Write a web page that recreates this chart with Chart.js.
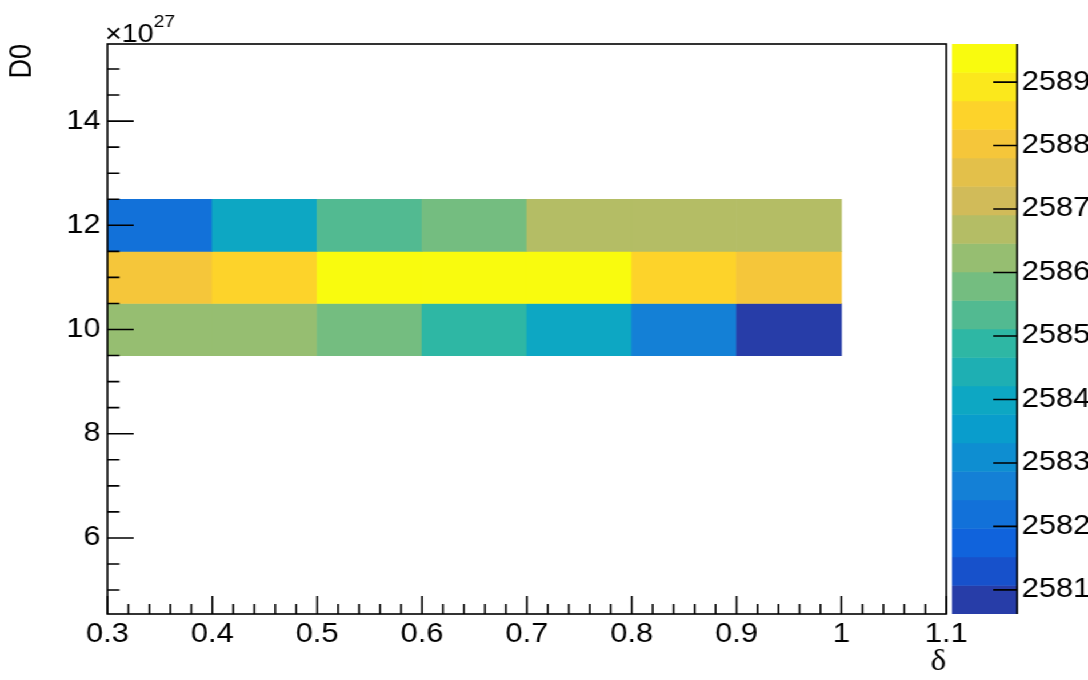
<!DOCTYPE html>
<html>
<head>
<meta charset="utf-8">
<script src="https://cdn.jsdelivr.net/npm/chart.js@4.4.1/dist/chart.umd.min.js"></script>
<style>
  html, body { margin: 0; padding: 0; background: #fff; overflow: hidden; }
  /* the canvas is drawn at 952 wide and stretched to 1088 */
  #wrap { position: relative; width: 952px; height: 680px; transform: scaleX(1.142857); transform-origin: 0 0; }
  #wrap canvas { position: absolute; left: 0; top: 0; }
</style>
</head>
<body>
<div id="wrap">
  <canvas id="hist" width="952" height="680"></canvas>
  <canvas id="palette" width="952" height="680"></canvas>
</div>
<script>
// bin edges along delta, bin centres along D0 (in units of 1e27)
const deltaEdges = [0.3, 0.4, 0.5, 0.6, 0.7, 0.8, 0.9, 1.0];
const d0Rows = [10, 11, 12];
// bin contents, one array per D0 row
const zD0_10 = [25862.4, 25862.0, 25857.6, 25849.1, 25839.7, 25826.2, 25806.2];
const zD0_11 = [25880.6, 25885.1, 25894.2, 25896.0, 25894.6, 25884.7, 25880.2];
const zD0_12 = [25821.8, 25840.3, 25853.2, 25858.1, 25866.6, 25867.1, 25866.9];
const zRows = [zD0_10, zD0_11, zD0_12];

const xTicks = [0.3, 0.4, 0.5, 0.6, 0.7, 0.8, 0.9, 1.0, 1.1];
const yTicks = [6, 8, 10, 12, 14];
const zTicks = [25810, 25820, 25830, 25840, 25850, 25860, 25870, 25880, 25890];
const nContours = 20;

// kBird palette stops
const birdStops = [0.0, 0.125, 0.25, 0.375, 0.5, 0.625, 0.75, 0.875, 1.0];
const birdR = [0.2082, 0.0592, 0.0780, 0.0232, 0.1802, 0.5301, 0.8186, 0.9956, 0.9764];
const birdG = [0.1664, 0.3599, 0.5041, 0.6419, 0.7178, 0.7492, 0.7328, 0.7862, 0.9832];
const birdB = [0.5293, 0.8684, 0.8385, 0.7914, 0.6425, 0.4662, 0.3499, 0.1968, 0.0539];

function bird(f) {
  let i = 0;
  while (i < birdStops.length - 2 && f > birdStops[i + 1]) i++;
  const t = (f - birdStops[i]) / (birdStops[i + 1] - birdStops[i]);
  const c = a => Math.round(255 * (a[i] + (a[i + 1] - a[i]) * t));
  return `rgb(${c(birdR)},${c(birdG)},${c(birdB)})`;
}

// colour of contour level i, 255 colours spread over 20 levels
function levelColor(i) {
  const idx = Math.floor((i + 0.99) * 255 / nContours);
  return bird(idx / 254);
}

const allZ = zRows.flat();
const zMin = Math.min(...allZ);
const zMax = Math.max(...allZ);
const dz = (zMax - zMin) / nContours;

function zLevel(z) {
  return Math.min(nContours - 1, Math.floor(0.01 + (z - zMin) / dz));
}

const cells = [];
const cellColors = [];
zRows.forEach((row, r) => {
  row.forEach((z, c) => {
    cells.push({ x: [deltaEdges[c], deltaEdges[c + 1]], y: d0Rows[r] });
    cellColors.push(levelColor(zLevel(z)));
  });
});

const bands = [];
const bandColors = [];
for (let i = 0; i < nContours; i++) {
  bands.push({ x: 'z', y: [zMin + i * dz, zMin + (i + 1) * dz] });
  bandColors.push(levelColor(i));
}

const sans = '"Liberation Sans", Arial, sans-serif';
Chart.defaults.font.family = sans;
Chart.defaults.color = '#000';

const labelFont = { family: sans, size: 27 };
const lineW = 1.6;

// frame, inward tick marks and the exponent
const rootAxes = {
  id: 'rootAxes',
  afterDraw(chart) {
    const { ctx, chartArea: a, scales: { x, y } } = chart;
    ctx.save();
    ctx.strokeStyle = '#000';
    ctx.lineWidth = lineW;
    ctx.strokeRect(a.left, a.top, a.right - a.left, a.bottom - a.top);
    ctx.beginPath();
    for (let v = 300; v <= 1100; v += 20) {
      const px = x.getPixelForValue(v / 1000);
      const len = v % 100 === 0 ? 18 : 10;
      ctx.moveTo(px, a.bottom);
      ctx.lineTo(px, a.bottom - len);
    }
    for (let v = 45; v <= 155; v += 5) {
      const py = y.getPixelForValue(v / 10);
      if (py < a.top || py > a.bottom) continue;
      const len = v % 20 === 0 ? 23 : 10.5;
      ctx.moveTo(a.left, py);
      ctx.lineTo(a.left + len, py);
    }
    ctx.stroke();

    ctx.fillStyle = '#000';
    ctx.textAlign = 'left';
    ctx.textBaseline = 'alphabetic';
    ctx.font = '25px ' + sans;
    ctx.fillText('×10', a.left - 2, 42);
    const w = ctx.measureText('×10').width;
    ctx.font = '17px ' + sans;
    ctx.fillText('27', a.left - 2 + w, 27);
    ctx.restore();
  }
};

new Chart(document.getElementById('hist'), {
  type: 'bar',
  data: {
    datasets: [{
      data: cells,
      backgroundColor: cellColors,
      borderWidth: 0,
      barPercentage: 1,
      categoryPercentage: 1
    }]
  },
  options: {
    indexAxis: 'y',
    responsive: false,
    animation: false,
    events: [],
    layout: { padding: { left: 0, right: 124, top: 44, bottom: 0 } },
    plugins: { legend: { display: false }, tooltip: { enabled: false } },
    scales: {
      x: {
        type: 'linear',
        min: 0.3,
        max: 1.1,
        afterBuildTicks: s => { s.ticks = xTicks.map(v => ({ value: v })); },
        afterFit: s => { s.height = 66; },
        grid: { display: false, drawTicks: false },
        border: { display: false },
        ticks: { font: labelFont, color: '#000', padding: 4, maxRotation: 0, autoSkip: false, callback: v => String(v) },
        title: {
          display: true, text: 'δ', align: 'end', color: '#000', padding: 0,
          font: { family: '"Liberation Serif", "DejaVu Serif", serif', size: 29 }
        }
      },
      y: {
        type: 'linear',
        min: 4.54,
        max: 15.48,
        offset: false,
        afterBuildTicks: s => { s.ticks = yTicks.map(v => ({ value: v })); },
        afterFit: s => { s.width = 94; },
        grid: { display: false, drawTicks: false },
        border: { display: false },
        ticks: { font: labelFont, color: '#000', padding: 6, autoSkip: false, callback: v => String(v) },
        title: {
          display: true, text: 'D0', align: 'end', color: '#000',
          padding: { top: 3, bottom: 0 },
          font: { family: sans, size: 27 }
        }
      }
    }
  },
  plugins: [rootAxes]
});

// palette axis line and its ticks
const paletteAxis = {
  id: 'paletteAxis',
  afterDraw(chart) {
    const { ctx, chartArea: a, scales: { y } } = chart;
    ctx.save();
    ctx.strokeStyle = '#000';
    ctx.lineWidth = lineW;
    ctx.beginPath();
    ctx.moveTo(a.right, a.top);
    ctx.lineTo(a.right, a.bottom);
    zTicks.forEach(v => {
      const py = y.getPixelForValue(v);
      ctx.moveTo(a.right, py);
      ctx.lineTo(a.right - 21, py);
    });
    ctx.stroke();
    ctx.restore();
  }
};

new Chart(document.getElementById('palette'), {
  type: 'bar',
  data: {
    labels: ['z'],
    datasets: [{
      data: bands,
      backgroundColor: bandColors,
      borderWidth: 0,
      barPercentage: 1,
      categoryPercentage: 1
    }]
  },
  options: {
    responsive: false,
    animation: false,
    events: [],
    layout: { padding: { left: 833, right: 0, top: 44, bottom: 66 } },
    plugins: { legend: { display: false }, tooltip: { enabled: false } },
    scales: {
      x: { type: 'category', display: false },
      y: {
        type: 'linear',
        position: 'right',
        min: zMin,
        max: zMax,
        afterBuildTicks: s => { s.ticks = zTicks.map(v => ({ value: v })); },
        afterFit: s => { s.width = 62; },
        grid: { display: false, drawTicks: false },
        border: { display: false },
        ticks: { font: labelFont, color: '#000', padding: 4, autoSkip: false, callback: v => String(v) }
      }
    }
  },
  plugins: [paletteAxis]
});
</script>
</body>
</html>
